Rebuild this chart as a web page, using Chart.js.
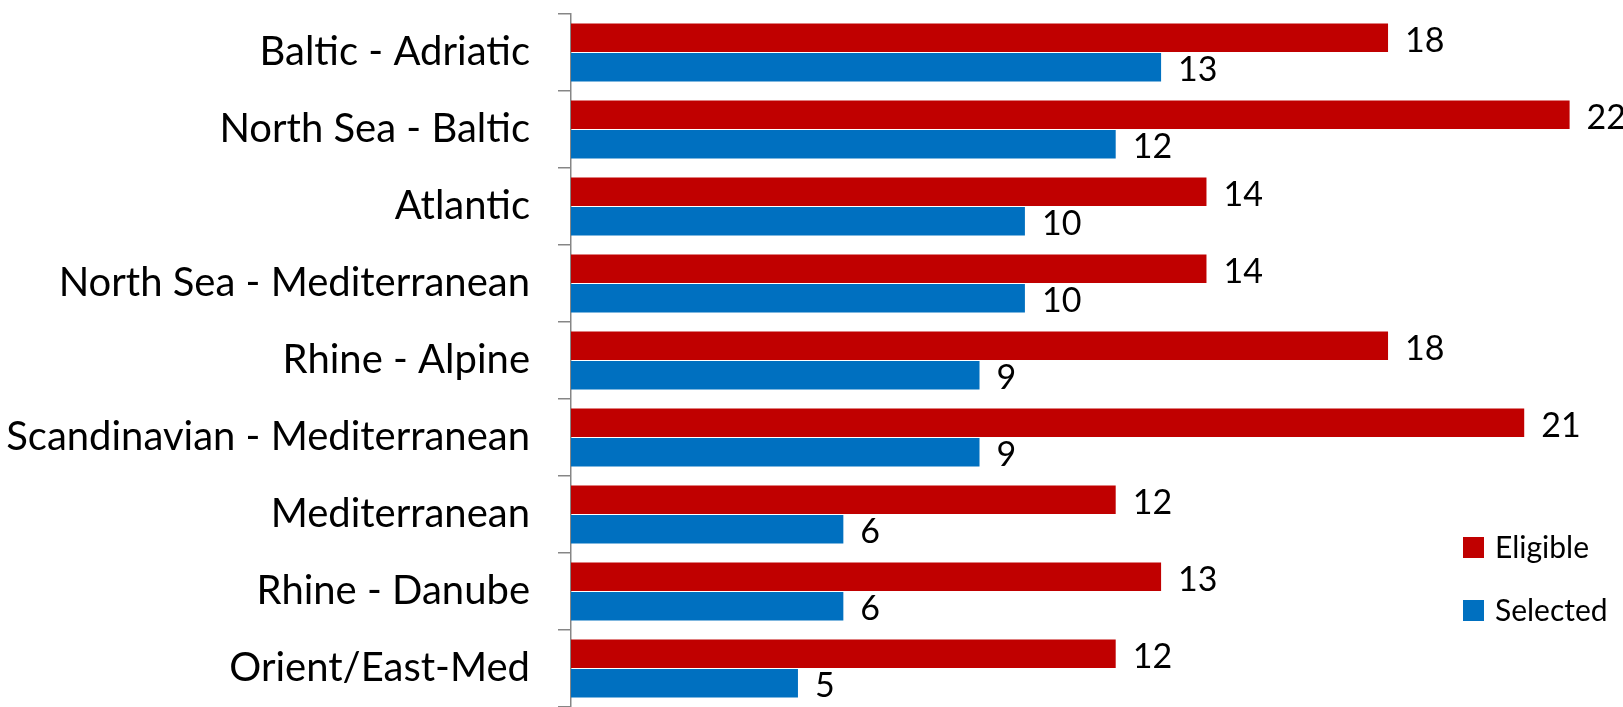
<!DOCTYPE html>
<html>
<head>
<meta charset="utf-8">
<script src="https://cdn.jsdelivr.net/npm/chart.js@4/dist/chart.umd.min.js"></script>
<style>
  html, body { margin: 0; padding: 0; background: #fff; }
  #wrap { position: relative; width: 1623px; height: 707px; }
</style>
</head>
<body>
<div id="wrap"><canvas id="chart"></canvas></div>
<script>
// Corridor names, top to bottom
const corridors = [
  "Baltic - Adriatic",
  "North Sea - Baltic",
  "Atlantic",
  "North Sea - Mediterranean",
  "Rhine - Alpine",
  "Scandinavian - Mediterranean",
  "Mediterranean",
  "Rhine - Danube",
  "Orient/East-Med",
];

// Series values
const eligible = [18, 22, 14, 14, 18, 21, 12, 13, 12];
const selected = [13, 12, 10, 10, 9, 9, 6, 6, 5];

const RED = "#C00000";
const BLUE = "#0070C0";
const FONT = "Lato, 'Open Sans', sans-serif";

// Draw the numbers at the end of each bar
const valueLabels = {
  id: "valueLabels",
  afterDatasetsDraw(chart) {
    const ctx = chart.ctx;
    ctx.save();
    ctx.font = `34px ${FONT}`;
    ctx.fillStyle = "#000";
    ctx.textAlign = "left";
    ctx.textBaseline = "middle";
    chart.data.datasets.forEach((ds, i) => {
      chart.getDatasetMeta(i).data.forEach((bar, j) => {
        ctx.fillText(ds.data[j], bar.x + 17, bar.y + 3);
      });
    });
    ctx.restore();
  },
};

// Legend sits inside the plot, lower right
const cornerLegend = {
  id: "cornerLegend",
  afterDraw(chart) {
    const ctx = chart.ctx;
    ctx.save();
    ctx.font = `30px ${FONT}`;
    ctx.textBaseline = "middle";
    chart.data.datasets.forEach((ds, i) => {
      const y = 547 + i * 63;
      ctx.fillStyle = ds.backgroundColor;
      ctx.fillRect(1463, y - 10, 21, 21);
      ctx.fillStyle = "#000";
      ctx.fillText(ds.label, 1495, y + 1);
    });
    ctx.restore();
  },
};

new Chart(document.getElementById("chart"), {
  type: "bar",
  data: {
    labels: corridors,
    datasets: [
      { label: "Eligible", data: eligible, backgroundColor: RED },
      { label: "Selected", data: selected, backgroundColor: BLUE },
    ],
  },
  options: {
    indexAxis: "y",
    responsive: true,
    maintainAspectRatio: false,
    animation: false,
    categoryPercentage: 0.77,
    barPercentage: 0.96,
    layout: { padding: { top: 14, right: 8, bottom: 0, left: 0 } },
    plugins: {
      legend: { display: false },
      tooltip: { enabled: false },
    },
    scales: {
      x: {
        display: false,
        min: 0,
        max: 23,
      },
      y: {
        afterFit: (scale) => {
          scale.width = 571;
          scale.paddingTop = 0;
          scale.paddingBottom = 0;
        },
        border: { display: true, color: "#868686", width: 1.5 },
        grid: {
          offset: true,
          drawOnChartArea: false,
          drawTicks: true,
          tickLength: 13,
          color: "#868686",
          lineWidth: 1.5,
        },
        ticks: {
          padding: 28,
          color: "#000",
          font: { family: FONT, size: 40 },
        },
      },
    },
  },
  plugins: [valueLabels, cornerLegend],
});
</script>
</body>
</html>
